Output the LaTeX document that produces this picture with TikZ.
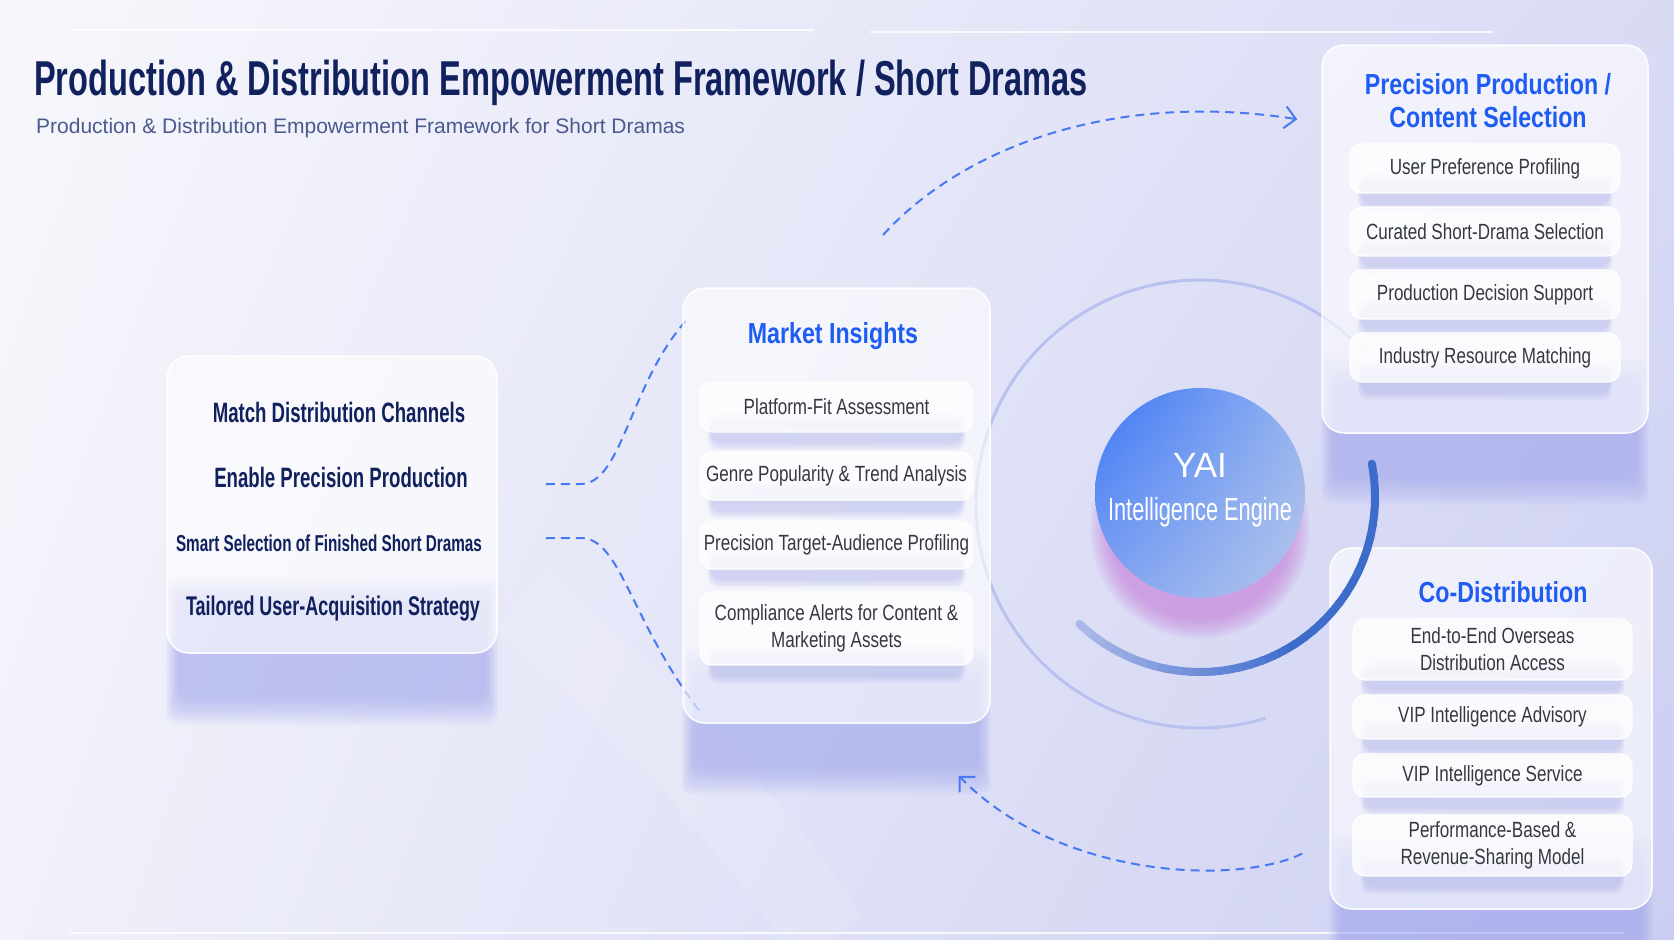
\documentclass[tikz,border=0pt]{standalone}
\usepackage{fontspec}
\setmainfont{Liberation Sans}
\newfontfamily\titlefont[FakeStretch=0.665]{Liberation Sans}
\newfontfamily\headfont[FakeStretch=0.8]{Liberation Sans}
\newfontfamily\itemfont[FakeStretch=0.775]{Liberation Sans}
\newfontfamily\enginefont[FakeStretch=0.68]{Liberation Sans}
\usetikzlibrary{arrows.meta,calc,positioning,shadings}
\definecolor{titlenavy}{HTML}{10215E}
\definecolor{subslate}{HTML}{4B5A8E}
\definecolor{headblue}{HTML}{1F5CF2}
\definecolor{itemgray}{HTML}{363840}
\definecolor{dashblue}{HTML}{4679F2}
\definecolor{shadowblue}{HTML}{9DA3EE}
\definecolor{ringblue}{HTML}{B9C2EE}
\definecolor{arcdark}{HTML}{3E6CCB}
\definecolor{arclight}{HTML}{B4C0EA}
\definecolor{glowpink}{HTML}{C77BDA}
\definecolor{bgtl}{HTML}{F7F7FC}
\definecolor{bgtr}{HTML}{D9DBF5}
\definecolor{bgbl}{HTML}{F1F1FA}
\definecolor{bgbr}{HTML}{CBCEF2}
\definecolor{engtl}{HTML}{3C77F6}
\definecolor{engtr}{HTML}{93B2F0}
\definecolor{engbl}{HTML}{7FA3F2}
\definecolor{engbr}{HTML}{B6C6EA}
\pgfdeclarelayer{bg}
\pgfdeclarelayer{back}
\pgfdeclarelayer{panel}
\pgfdeclarelayer{mid}
\pgfsetlayers{bg,back,panel,mid,main}
% soft shadow under a node: name, drop, reach up, blur, colour, opacity
\newcommand{\softshadow}[6]{%
  \foreach \k in {1,...,10}{
    \pgfmathsetmacro\g{#4*(1-\k/10)}
    \fill [#5, opacity=#6, rounded corners=10pt] ($(#1.south west)+(12-0.45*\g,-#3-\g)$) rectangle ($(#1.south east)+(0.45*\g-12,#2+\g)$);
  }}
\tikzset{
  panel/.style={rounded corners=22pt, fill=white, fill opacity=0.62, draw=white, draw opacity=0.95, line width=1.5pt, inner sep=0pt},
  item/.style={rounded corners=12pt, fill=white, fill opacity=0.78, text opacity=1, draw=white, line width=1.2pt, inner sep=0pt, align=center,
    text=itemgray, font=\itemfont\fontsize{22}{27}\selectfont},
  head/.style={text=headblue, font=\headfont\bfseries\fontsize{29}{33}\selectfont, align=center, inner sep=0pt},
  lefttext/.style={text=titlenavy, font=\titlefont\bfseries\fontsize{28}{32}\selectfont, inner sep=0pt},
  flow/.style={dashblue, line width=2pt, dash pattern=on 9pt off 6pt},
  engine/.style={circle, minimum size=210pt, inner sep=0pt,
    upper left=engtl, upper right=engtr, lower left=engbl, lower right=engbr}
}

\begin{document}
\begin{tikzpicture}[x=1pt, y=-1pt, >={Straight Barb[length=11pt,width=22pt]}]
	\useasboundingbox (0,0) rectangle (1674,940);
	% backdrop
	\begin{pgfonlayer}{bg}
	\shade[upper left=bgtl, upper right=bgtr, lower left=bgbl, lower right=bgbr] (0,0) rectangle (1674,940);
	\draw [white, line width=80pt, opacity=0.12] (520,600) .. controls (640,700) and (760,830) .. (830,940);
	\draw [white, line width=2pt, opacity=0.8] (70,30) -- (814,30);
	\draw [white, line width=2pt, opacity=0.8] (870,32) -- (1493,32);
	\draw [white, line width=2pt, opacity=0.8] (70,933) -- (1625,933);
	\end{pgfonlayer}

	\node [anchor=base west, inner sep=0pt, text=titlenavy, font=\titlefont\bfseries\fontsize{49}{55}\selectfont] (title) at (34,95) {Production \& Distribution Empowerment Framework / Short Dramas};
	\node [anchor=base west, inner sep=0pt, text=subslate, font=\fontsize{21}{25}\selectfont] (subtitle) at (36,133) {Production \& Distribution Empowerment Framework for Short Dramas};

	\begin{pgfonlayer}{panel}
	\node [panel, minimum width=330pt, minimum height=297pt] (channels) at (332,504.5) {};
	\node [panel, minimum width=307pt, minimum height=435pt] (insight) at (836.5,505.5) {};
	\node [panel, minimum width=326pt, minimum height=388pt] (prec) at (1485,239) {};
	\node [panel, minimum width=322pt, minimum height=361pt] (codist) at (1491,728.5) {};
	\end{pgfonlayer}

	% left column
	\node [lefttext] (ch1) at (339,412) {Match Distribution Channels};
	\node [lefttext] (ch2) at (341,477) {Enable Precision Production};
	\node [lefttext, font=\titlefont\bfseries\fontsize{23}{27}\selectfont] (ch3) at (329,543) {Smart Selection of Finished Short Dramas};
	\node [lefttext, font=\titlefont\bfseries\fontsize{27}{32}\selectfont] (ch4) at (333,609) {Tailored User-Acquisition Strategy};

	% market insights
	\node [head] (insighthead) at (833,336) {Market Insights};
	\node [item, minimum width=273pt, minimum height=50pt] (fit) at (836.5,407) {Platform-Fit Assessment};
	\node [item, minimum width=273pt, minimum height=48pt] (genre) at (836.5,476) {Genre Popularity \& Trend Analysis};
	\node [item, minimum width=273pt, minimum height=48pt] (audience) at (836.5,545) {Precision Target-Audience Profiling};
	\node [item, minimum width=273pt, minimum height=73pt] (compliance) at (836.5,628.5) {Compliance Alerts for Content \&\\Marketing Assets};

	% precision production
	\node [head] (prechead) at (1488,101) {Precision Production /\\Content Selection};
	\node [item, minimum width=270pt, minimum height=49pt] (profiling) at (1485,168.5) {User Preference Profiling};
	\node [item, minimum width=270pt, minimum height=49pt] (curated) at (1485,231.5) {Curated Short-Drama Selection};
	\node [item, minimum width=270pt, minimum height=49pt] (decision) at (1485,294.5) {Production Decision Support};
	\node [item, minimum width=270pt, minimum height=49pt] (resource) at (1485,357.5) {Industry Resource Matching};

	% co-distribution
	\node [head] (codisthead) at (1503,592) {Co-Distribution};
	\node [item, minimum width=279pt, minimum height=61pt] (overseas) at (1492.5,649.5) {End-to-End Overseas\\Distribution Access};
	\node [item, minimum width=279pt, minimum height=44pt] (advisory) at (1492.5,717) {VIP Intelligence Advisory};
	\node [item, minimum width=279pt, minimum height=43pt] (service) at (1492.5,775.5) {VIP Intelligence Service};
	\node [item, minimum width=279pt, minimum height=61pt] (revenue) at (1492.5,845.5) {Performance-Based \&\\Revenue-Sharing Model};

	% engine
	\coordinate (ringc) at (1200,504);
	\coordinate (arcc) at (1200,497);
	\node [engine] (engine) at (1200,493) {};
	\node [text=white, inner sep=0pt, font=\fontsize{35}{40}\selectfont] (yai) at (1200,465) {YAI};
	\node [text=white, inner sep=0pt, font=\enginefont\fontsize{32}{36}\selectfont] (engname) at (1200,512) {Intelligence Engine};
	\foreach \i in {0,...,35}{
		\pgfmathsetmacro\a{-11+4*\i}
		\pgfmathsetmacro\p{min(100,100-(\i-17)*5)}
		\draw [arcdark!\p!arclight, line width=8pt, line cap=round] ($(arcc)+(\a:175)$) arc [start angle=\a, delta angle=4.5, radius=175];
	}

	\begin{pgfonlayer}{back}
	\softshadow{channels}{44}{50}{30}{shadowblue}{0.08}
	\softshadow{insight}{44}{50}{30}{shadowblue}{0.08}
	\softshadow{prec}{44}{50}{30}{shadowblue}{0.08}
	\softshadow{codist}{44}{50}{30}{shadowblue}{0.08}
	\foreach \k in {1,...,12}{
		\pgfmathsetmacro\g{22*(1-\k/12)}
		\fill [glowpink, opacity=0.07] ($(engine.center)+(0,36)$) circle [radius=90+\g];
	}
	\draw [ringblue, line width=3pt] ($(ringc)+(-38:224)$) arc [start angle=-38, end angle=-287, radius=224];
	\draw [flow] ($(channels.east)+(48,-20.5)$) -- ++(35,0) .. controls +(42,0) and (630,380) .. ($(insight.north west)+(7,30)$);
	\draw [flow] ($(channels.east)+(48,33.5)$) -- ++(35,0) .. controls +(40,0) and (630,620) .. ($(insight.south west)+(17,-13)$);
	\end{pgfonlayer}

	\begin{pgfonlayer}{mid}
	\foreach \n in {fit,genre,audience,compliance,profiling,curated,decision,resource,overseas,advisory,service,revenue}{
		\softshadow{\n}{10}{12}{9}{shadowblue}{0.045}
	}
	\end{pgfonlayer}

	\coordinate (upfrom) at (883,235);
	\draw [flow, ->] (upfrom) .. controls (960,150) and (1110,90) .. ($(prec.north west)+(-24,75)$);
	\draw [flow, ->] ($(codist.west)+(-27,125)$) .. controls (1240,885) and (1060,880) .. ($(insight.south east)+(-32,52)$);
\end{tikzpicture}
\end{document}
